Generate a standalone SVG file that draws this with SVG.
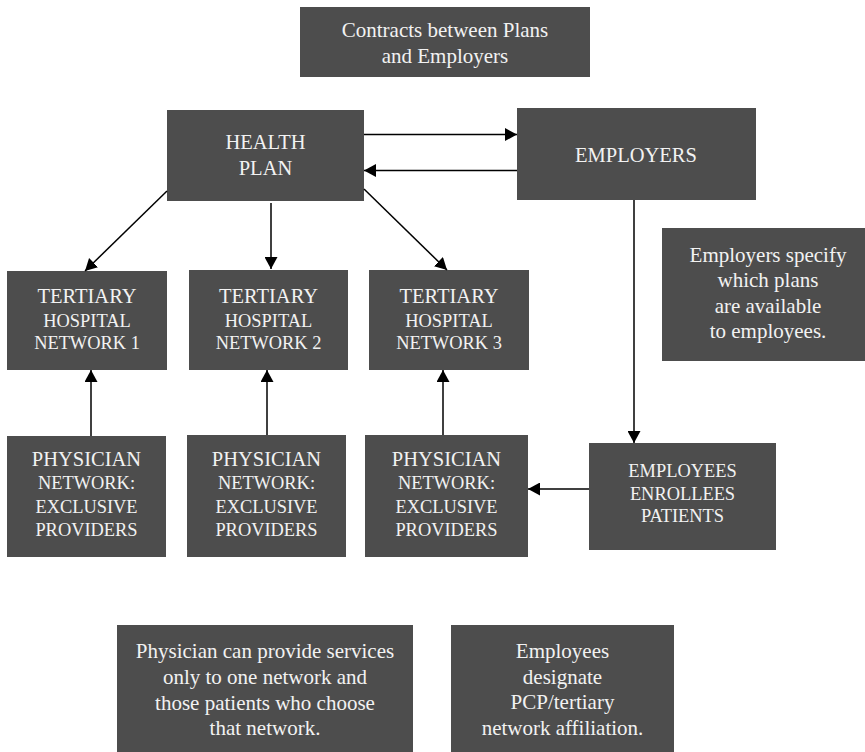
<svg xmlns="http://www.w3.org/2000/svg" width="865" height="752" viewBox="0 0 865 752">
<defs>
<style>
.box{fill:#4d4d4d}
.t{font-family:"Liberation Serif","Times New Roman",serif;fill:#f2f2f2;text-anchor:middle}
.h{font-size:20.5px}
.s{font-size:18.4px}
.n{font-size:21px}
.c{stroke:#000;stroke-width:1.5;fill:none;marker-end:url(#ah)}
</style>
<marker id="ah" markerUnits="userSpaceOnUse" markerWidth="13" markerHeight="13" refX="12" refY="6.5" orient="auto">
<path d="M0,0 L12,6.5 L0,13 z" fill="#000"/>
</marker>
</defs>
<rect width="865" height="752" fill="#fff"/>

<g id="contracts">
<rect class="box" x="300" y="7" width="290" height="70"/>
<text class="t n" x="445" y="37">Contracts between Plans</text>
<text class="t n" x="445" y="63">and Employers</text>
</g>

<g id="health-plan">
<rect class="box" x="167" y="110" width="197" height="91"/>
<text class="t h" x="265.5" y="149">HEALTH</text>
<text class="t h" x="265.5" y="175">PLAN</text>
</g>

<g id="employers">
<rect class="box" x="517" y="108" width="239" height="92"/>
<text class="t h" x="636" y="162">EMPLOYERS</text>
</g>

<g id="tertiary-1">
<rect class="box" x="7" y="271" width="160" height="99"/>
<text class="t h" x="87" y="303">TERTIARY</text>
<text class="t s" x="87" y="326.5">HOSPITAL</text>
<text class="t s" x="87" y="349">NETWORK 1</text>
</g>
<g id="tertiary-2">
<rect class="box" x="189" y="270" width="159" height="100"/>
<text class="t h" x="268.5" y="303">TERTIARY</text>
<text class="t s" x="268.5" y="326.5">HOSPITAL</text>
<text class="t s" x="268.5" y="349">NETWORK 2</text>
</g>
<g id="tertiary-3">
<rect class="box" x="369" y="270" width="160" height="100"/>
<text class="t h" x="449" y="303">TERTIARY</text>
<text class="t s" x="449" y="326.5">HOSPITAL</text>
<text class="t s" x="449" y="349">NETWORK 3</text>
</g>

<g id="physician-1">
<rect class="box" x="7" y="436" width="159" height="121"/>
<text class="t h" x="86.5" y="466">PHYSICIAN</text>
<text class="t s" x="86.5" y="489">NETWORK:</text>
<text class="t s" x="86.5" y="512.5">EXCLUSIVE</text>
<text class="t s" x="86.5" y="535.5">PROVIDERS</text>
</g>
<g id="physician-2">
<rect class="box" x="187" y="435" width="159" height="122"/>
<text class="t h" x="266.5" y="466">PHYSICIAN</text>
<text class="t s" x="266.5" y="489">NETWORK:</text>
<text class="t s" x="266.5" y="512.5">EXCLUSIVE</text>
<text class="t s" x="266.5" y="535.5">PROVIDERS</text>
</g>
<g id="physician-3">
<rect class="box" x="365" y="435" width="163" height="122"/>
<text class="t h" x="446.5" y="466">PHYSICIAN</text>
<text class="t s" x="446.5" y="489">NETWORK:</text>
<text class="t s" x="446.5" y="512.5">EXCLUSIVE</text>
<text class="t s" x="446.5" y="535.5">PROVIDERS</text>
</g>

<g id="employees">
<rect class="box" x="589" y="443" width="187" height="107"/>
<text class="t s" x="682.5" y="477">EMPLOYEES</text>
<text class="t s" x="682.5" y="500">ENROLLEES</text>
<text class="t s" x="682.5" y="522">PATIENTS</text>
</g>

<g id="note-employers">
<rect class="box" x="662" y="228" width="203" height="133"/>
<text class="t n" x="768" y="262">Employers specify</text>
<text class="t n" x="768" y="287">which plans</text>
<text class="t n" x="768" y="312.5">are available</text>
<text class="t n" x="768" y="338">to employees.</text>
</g>

<g id="note-physician">
<rect class="box" x="117" y="625" width="296" height="127"/>
<text class="t n" x="265" y="657.5">Physician can provide services</text>
<text class="t n" x="265" y="683.5">only to one network and</text>
<text class="t n" x="265" y="709.5">those patients who choose</text>
<text class="t n" x="265" y="735">that network.</text>
</g>

<g id="note-employees">
<rect class="box" x="451" y="625" width="223" height="127"/>
<text class="t n" x="562.5" y="657.5">Employees</text>
<text class="t n" x="562.5" y="683.5">designate</text>
<text class="t n" x="562.5" y="709">PCP/tertiary</text>
<text class="t n" x="562.5" y="734.5">network affiliation.</text>
</g>

<g id="connectors">
<line class="c" x1="364" y1="134.5" x2="517" y2="134.5"/>
<line class="c" x1="517" y1="170.5" x2="364" y2="170.5"/>
<line class="c" x1="167" y1="191" x2="85" y2="271"/>
<line class="c" x1="271" y1="203" x2="271" y2="269"/>
<line class="c" x1="364" y1="189" x2="447" y2="270"/>
<line class="c" x1="91" y1="436" x2="91" y2="370"/>
<line class="c" x1="267" y1="435" x2="267" y2="370"/>
<line class="c" x1="443" y1="435" x2="443" y2="370"/>
<line class="c" x1="634" y1="200" x2="634" y2="443"/>
<line class="c" x1="589" y1="489" x2="528" y2="489"/>
</g>
</svg>
